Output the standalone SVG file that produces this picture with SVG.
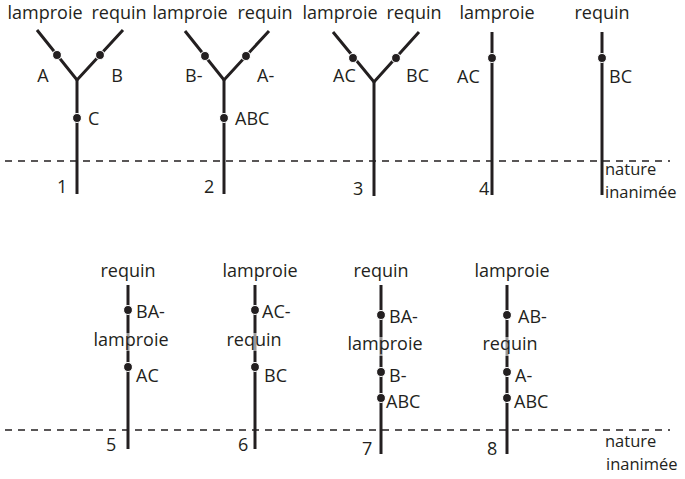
<svg xmlns="http://www.w3.org/2000/svg" width="685" height="479" viewBox="0 0 685 479">
<style>
text{font-family:"Open Sans","Liberation Sans",sans-serif;font-size:18px;fill:#231f20}
.m{text-anchor:middle}
.s{font-size:16.5px}
.ln{stroke:#231f20;stroke-width:3;fill:none}
.dash{stroke:#231f20;stroke-width:1.3;stroke-dasharray:7 6;fill:none}
.dot{fill:#231f20;stroke:#fff;stroke-width:1.2}
.veil{fill:#fff;opacity:0.55}
</style>
<rect width="685" height="479" fill="#fff"/>
<g id="connectors">
<line class="dash" x1="5" y1="161" x2="670" y2="161"/>
<line class="dash" x1="5" y1="430" x2="670" y2="430"/>
</g>
<g id="tree1">
<polyline class="ln" points="37,30 77,80 123,30"/>
<line class="ln" x1="77" y1="80" x2="77" y2="194"/>
<circle class="dot" cx="57" cy="55" r="4.5"/>
<circle class="dot" cx="100" cy="55" r="4.5"/>
<circle class="dot" cx="77" cy="118" r="4.5"/>
<text class="m" x="45" y="19">lamproie</text>
<text class="m" x="119" y="19">requin</text>
<text class="m" x="43" y="82">A</text>
<text class="m" x="117" y="82">B</text>
<text x="88" y="125">C</text>
<text x="57" y="193">1</text>
</g>
<g id="tree2">
<polyline class="ln" points="185,31 224,80 269,31"/>
<line class="ln" x1="224" y1="80" x2="224" y2="194"/>
<circle class="dot" cx="205" cy="56" r="4.5"/>
<circle class="dot" cx="246" cy="56" r="4.5"/>
<circle class="dot" cx="224" cy="118" r="4.5"/>
<text class="m" x="190" y="19">lamproie</text>
<text class="m" x="265" y="19">requin</text>
<text x="185" y="82">B-</text>
<text x="257" y="82">A-</text>
<text x="235" y="125">ABC</text>
<text x="204" y="193">2</text>
</g>
<g id="tree3">
<polyline class="ln" points="333,32 374,82 419,32"/>
<line class="ln" x1="374" y1="82" x2="374" y2="196"/>
<circle class="dot" cx="353" cy="58" r="4.5"/>
<circle class="dot" cx="396" cy="58" r="4.5"/>
<text class="m" x="340" y="19">lamproie</text>
<text class="m" x="414" y="19">requin</text>
<text x="333" y="82">AC</text>
<text x="406" y="82">BC</text>
<text x="353" y="195">3</text>
</g>
<g id="tree4">
<line class="ln" x1="492" y1="32" x2="492" y2="195"/>
<circle class="dot" cx="492" cy="58" r="4.5"/>
<text class="m" x="497" y="19">lamproie</text>
<text x="457" y="83">AC</text>
<text x="479" y="195">4</text>
</g>
<g id="tree4b">
<line class="ln" x1="602" y1="32" x2="602" y2="195"/>
<circle class="dot" cx="602" cy="58" r="4.5"/>
<text class="m" x="602" y="19">requin</text>
<text x="609" y="83">BC</text>
<text class="s" x="605" y="175">nature</text>
<text class="s" x="605" y="198">inanimée</text>
</g>
<g id="tree5">
<line class="ln" x1="128" y1="285" x2="128" y2="449"/>
<rect class="veil" x="123" y="333" width="10" height="18"/>
<circle class="dot" cx="128" cy="310" r="4.5"/>
<circle class="dot" cx="128" cy="367" r="4.5"/>
<text class="m" x="128" y="277">requin</text>
<text x="136" y="318">BA-</text>
<text class="m" x="131" y="346">lamproie</text>
<text x="136" y="382">AC</text>
<text x="106" y="451">5</text>
</g>
<g id="tree6">
<line class="ln" x1="255" y1="285" x2="255" y2="449"/>
<rect class="veil" x="250" y="333" width="10" height="18"/>
<circle class="dot" cx="255" cy="310" r="4.5"/>
<circle class="dot" cx="255" cy="367" r="4.5"/>
<text class="m" x="260" y="277">lamproie</text>
<text x="262" y="318">AC-</text>
<text class="m" x="254" y="346">requin</text>
<text x="264" y="382">BC</text>
<text x="238" y="451">6</text>
</g>
<g id="tree7">
<line class="ln" x1="381" y1="285" x2="381" y2="454"/>
<rect class="veil" x="376" y="337" width="10" height="19"/>
<circle class="dot" cx="381" cy="315" r="4.5"/>
<circle class="dot" cx="381" cy="372" r="4.5"/>
<circle class="dot" cx="381" cy="398" r="4.5"/>
<text class="m" x="381" y="277">requin</text>
<text x="389" y="323">BA-</text>
<text class="m" x="385" y="350">lamproie</text>
<text x="389" y="382">B-</text>
<text x="386" y="408">ABC</text>
<text x="362" y="455">7</text>
</g>
<g id="tree8">
<line class="ln" x1="507" y1="285" x2="507" y2="454"/>
<rect class="veil" x="502" y="337" width="10" height="19"/>
<circle class="dot" cx="507" cy="315" r="4.5"/>
<circle class="dot" cx="507" cy="372" r="4.5"/>
<circle class="dot" cx="507" cy="398" r="4.5"/>
<text class="m" x="512" y="277">lamproie</text>
<text x="518" y="323">AB-</text>
<text class="m" x="510" y="350">requin</text>
<text x="515" y="382">A-</text>
<text x="514" y="408">ABC</text>
<text x="487" y="455">8</text>
<text class="s" x="605" y="447">nature</text>
<text class="s" x="606" y="470">inanimée</text>
</g>
</svg>
